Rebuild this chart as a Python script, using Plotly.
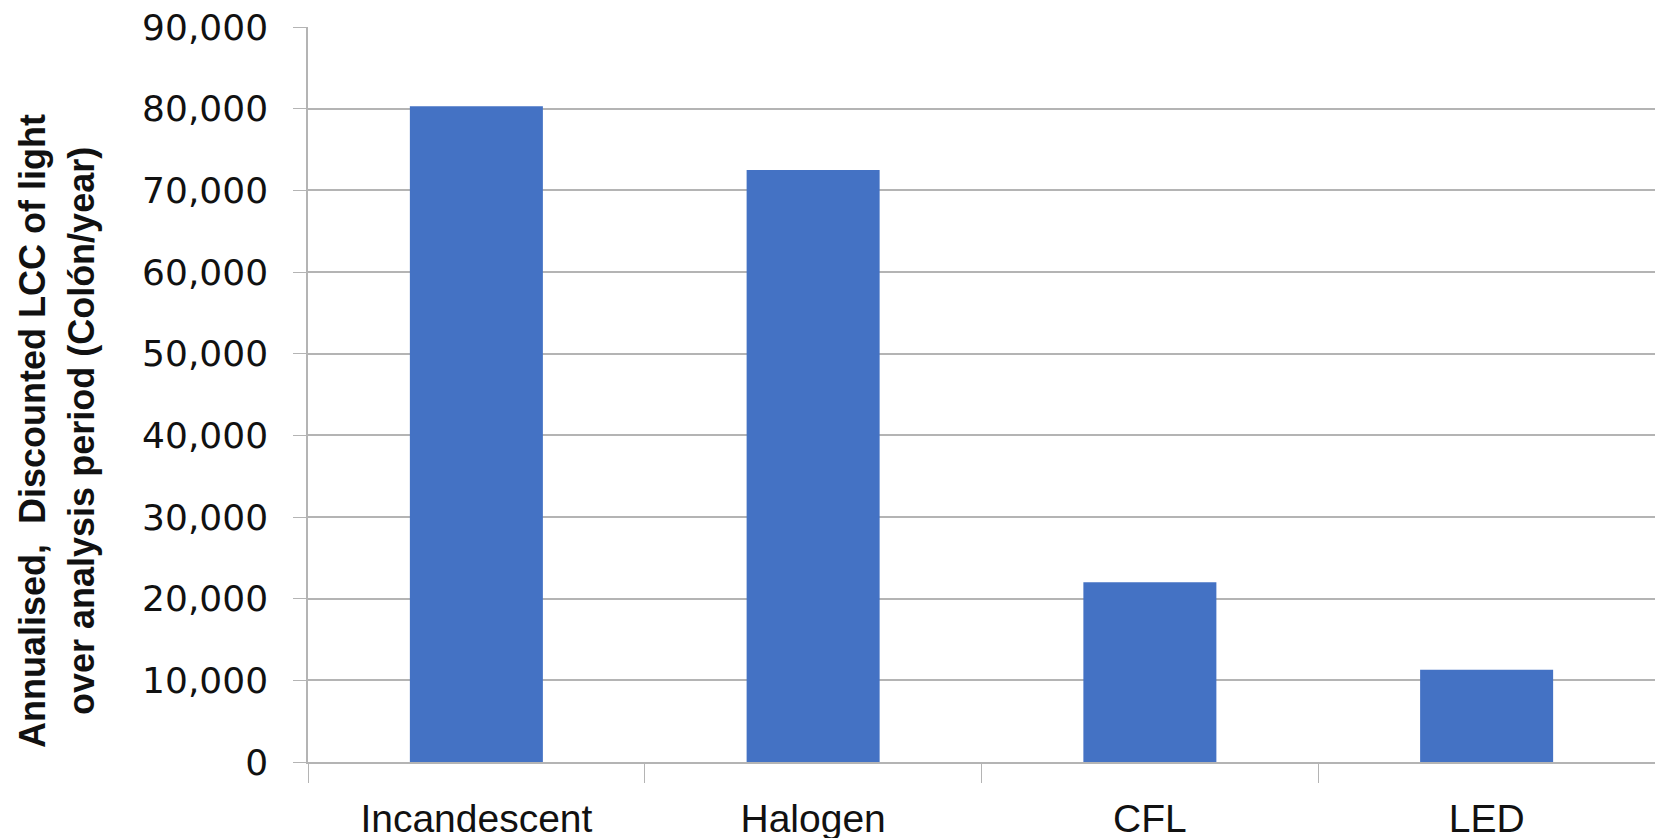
import plotly.graph_objects as go

# Lamp technologies and their annualised, discounted life-cycle cost (Colón/year)
categories = ["Incandescent", "Halogen", "CFL", "LED"]
lcc_values = [80300, 72500, 22000, 11300]

y_ticks = [0, 10000, 20000, 30000, 40000, 50000, 60000, 70000, 80000, 90000]
y_tick_labels = ["0", "10,000", "20,000", "30,000", "40,000", "50,000",
                 "60,000", "70,000", "80,000", "90,000"]

title_lines = ["Annualised,  Discounted LCC of light",
               "over analysis period (Colón/year)"]

GRID = "#b4b4b4"
BAR = "#4472C4"
W, H = 1655, 838
M_L, M_R, M_T, M_B = 308, 0, 27, 76

fig = go.Figure(
    go.Bar(
        x=categories,
        y=lcc_values,
        marker=dict(color=BAR, line=dict(width=0)),
        width=0.395,
    )
)

fig.update_layout(
    width=W,
    height=H,
    margin=dict(l=M_L, r=M_R, t=M_T, b=M_B, autoexpand=False),
    paper_bgcolor="white",
    plot_bgcolor="white",
    showlegend=False,
    font=dict(family="DejaVu Sans", color="#111111"),
)

fig.update_xaxes(
    automargin=False,
    tickson="boundaries",
    ticks="outside",
    ticklen=19,
    tickwidth=1,
    tickcolor=GRID,
    showline=True,
    linecolor=GRID,
    linewidth=1.5,
    showgrid=False,
    tickfont=dict(size=39, family="Liberation Sans", color="#111111"),
    ticklabelstandoff=21,
    range=[-0.5, 3.5],
)

fig.update_yaxes(
    automargin=False,
    range=[0, 90000],
    tickvals=y_ticks,
    ticktext=y_tick_labels,
    ticks="outside",
    ticklen=13,
    tickwidth=1,
    tickcolor=GRID,
    showgrid=True,
    gridcolor=GRID,
    gridwidth=1.5,
    zeroline=False,
    showline=True,
    linecolor=GRID,
    linewidth=1.5,
    tickfont=dict(size=36, family="DejaVu Sans", color="#111111"),
    ticklabelstandoff=18,
)

# Two-line rotated axis title, positioned in pixels relative to the plot area
plot_w = W - M_L - M_R
plot_h = H - M_T - M_B
for line, cx in zip(title_lines, [32, 81]):
    fig.add_annotation(
        text=f"<b>{line}</b>",
        xref="paper", yref="paper",
        x=(cx - M_L) / plot_w,
        y=(H - M_B - 431) / plot_h,
        xanchor="center", yanchor="middle",
        textangle=-90,
        showarrow=False,
        font=dict(size=36, family="Liberation Sans", color="#111111"),
    )

fig.write_html("out.html")
